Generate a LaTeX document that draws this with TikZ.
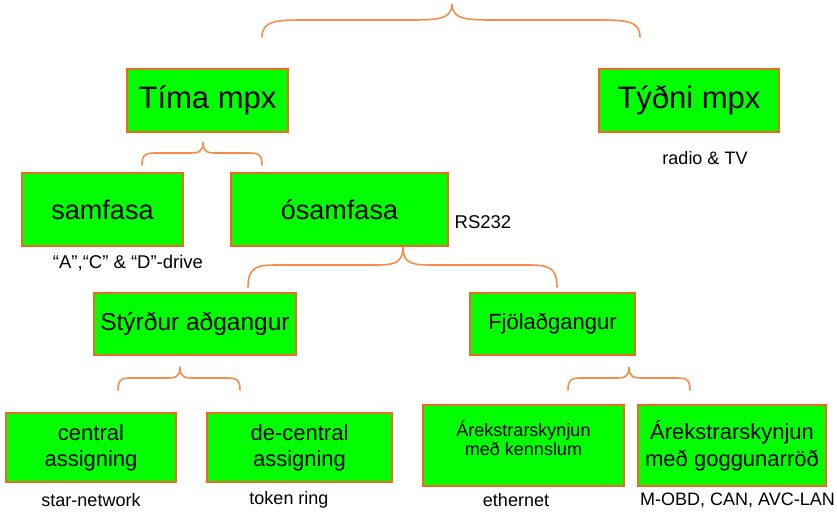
\documentclass[tikz,border=0pt]{standalone}
\usepackage{fontspec}
\setmainfont{Liberation Sans}
\definecolor{boxgreen}{RGB}{0,255,0}
\definecolor{boxline}{RGB}{240,105,30}
\definecolor{bracec}{RGB}{247,140,75}
\newcommand\mybrace[7]{%
\draw[brace] (#1,#4) .. controls (#1,#5) and (#1+#7*0.35,#5) .. (#1+#7,#5) -- (#3-#7,#5)
 .. controls (#3-#7*0.35,#5) and (#3,#5) .. (#3,#6)
 .. controls (#3,#5) and (#3+#7*0.35,#5) .. (#3+#7,#5) -- (#2-#7,#5)
 .. controls (#2-#7*0.35,#5) and (#2,#5) .. (#2,#4);}
\begin{document}
\begin{tikzpicture}[x=1pt,y=-1pt,
 box/.style={draw=boxline, line width=1.5pt, fill=boxgreen, inner sep=0pt, align=center},
 brace/.style={draw=bracec, line width=1.6pt, line cap=round},
 lbl/.style={inner sep=0pt, font=\fontsize{18}{21}\selectfont}]
\useasboundingbox (0,0) rectangle (837,512);
% braces
\mybrace{262}{640}{452}{37}{20}{4}{45}
\mybrace{142}{262}{203}{165}{153}{142}{15}
\mybrace{248}{557}{403}{287}{265}{247}{32}
\mybrace{118}{240}{180}{390}{378}{367}{15}
\mybrace{568}{690}{629}{390}{378}{367}{15}
% boxes
\node[box, minimum width=161pt, minimum height=63pt, font=\fontsize{31}{36}\selectfont] (tima) at (207.5,100.5) {Tíma mpx};
\node[box, minimum width=180pt, minimum height=63pt, font=\fontsize{31}{36}\selectfont] (tydni) at (689,100.5) {Týðni mpx};
\node[box, minimum width=161pt, minimum height=73pt, font=\fontsize{27}{32}\selectfont] (samfasa) at (102.5,209.5) {samfasa};
\node[box, minimum width=217pt, minimum height=73pt, font=\fontsize{27}{32}\selectfont] (osamfasa) at (339.5,209.5) {ósamfasa};
\node[box, minimum width=202pt, minimum height=62pt, font=\fontsize{24.5}{28}\selectfont] (styrdur) at (195,324) {Stýrður aðgangur};
\node[box, minimum width=165pt, minimum height=62pt, font=\fontsize{22}{28}\selectfont] (fjola) at (552.5,324) {Fjölaðgangur};
\node[box, minimum width=170pt, minimum height=69pt, font=\fontsize{22}{26}\selectfont] (central) at (91,447.5) {central\\assigning};
\node[box, minimum width=185pt, minimum height=69pt, font=\fontsize{22}{26}\selectfont] (decentral) at (299.5,447.5) {de-central\\assigning};
\node[box, minimum width=201pt, minimum height=81pt] (ark1) at (523.5,445.5) {};
\node[inner sep=0pt, align=center, font=\fontsize{18}{19}\selectfont] (ark1t) at (ark1.center) [yshift=7pt] {Árekstrarskynjun\\með kennslum};
\node[box, minimum width=188pt, minimum height=81pt, font=\fontsize{22}{27}\selectfont] (ark2) at (732,445.5) {Árekstrarskynjun\\með goggunarröð};
% labels
\node[lbl] (radio) at (705,158) {radio \& TV};
\node[lbl, font=\fontsize{18.5}{21}\selectfont] (rs) at (483,222) {RS232};
\node[lbl, font=\fontsize{18.5}{21}\selectfont] (drive) at (128,263) {“A”,“C” \& “D”-drive};
\node[lbl] (star) at (91,500) {star-network};
\node[lbl] (token) at (289,500) {token ring};
\node[lbl] (eth) at (516,500) {ethernet};
\node[lbl, anchor=west] (mobd) at (640,500) {M-OBD, CAN, AVC-LAN};
\end{tikzpicture}
\end{document}
